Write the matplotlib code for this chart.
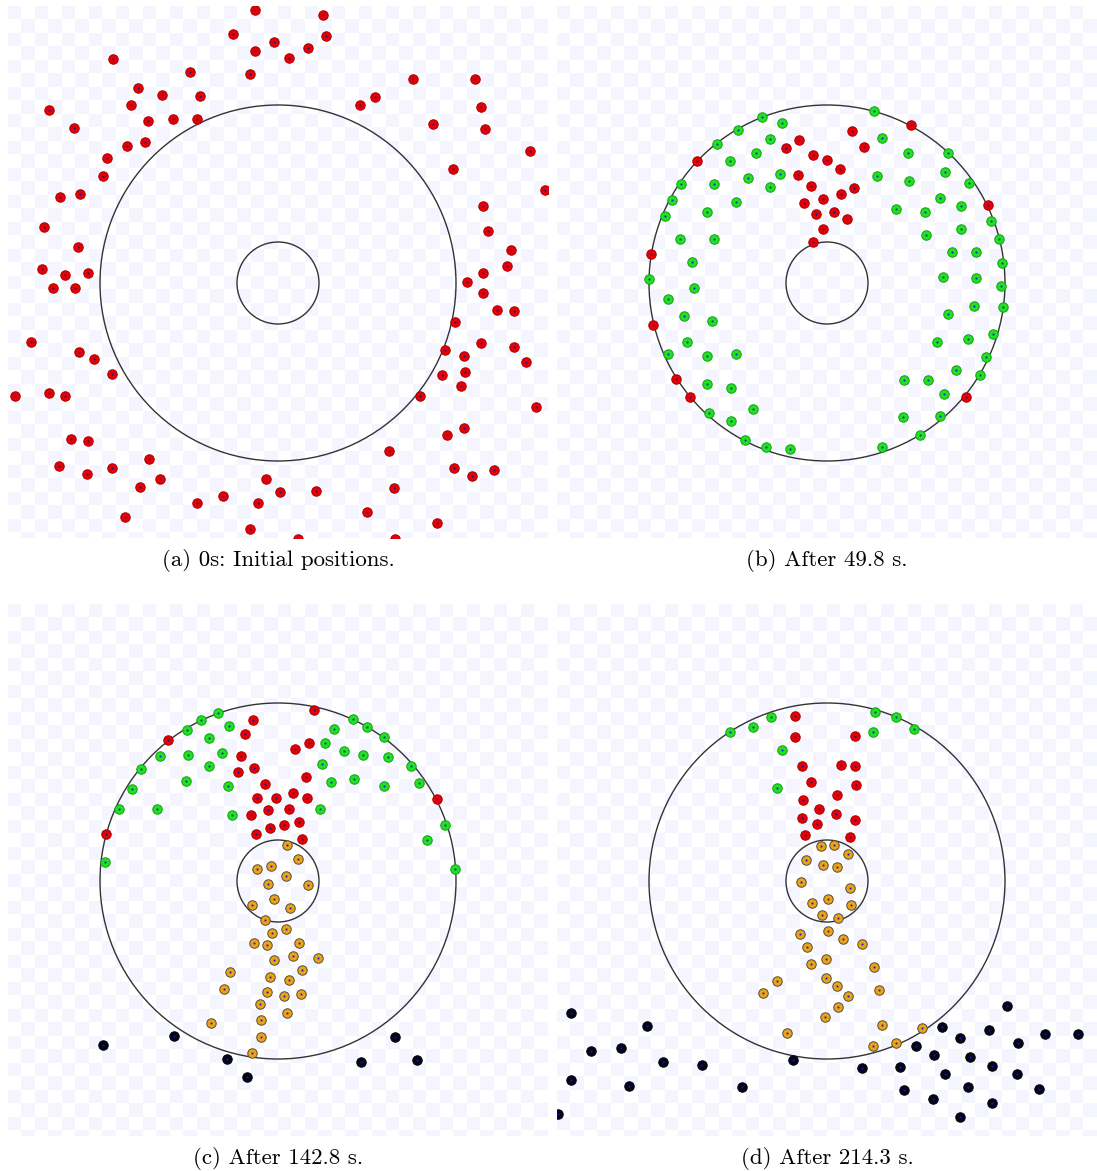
import numpy as np
import matplotlib
matplotlib.use("Agg")
import matplotlib.pyplot as plt
from matplotlib.colors import ListedColormap
from matplotlib.patches import Circle

# Agent positions, offsets from the arena centre (x right, y up)
red_a = [(-23, 273), (45, 268), (-45, 249), (-4, 241), (48, 247), (-23, 232), (30, 235),
         (11, 225), (-28, 209), (-165, 224), (-88, 211), (-140, 195), (-116, 188), (-78, 187),
         (-147, 178), (-229, 173), (-130, 162), (-105, 164), (-81, 164), (-204, 155),
         (-151, 137), (-133, 141), (-171, 125), (-175, 107), (-218, 86), (-198, 89),
         (-234, 56), (-200, 36), (-236, 14), (-213, 8), (-190, 10),
         (135, 204), (197, 204), (82, 178), (97, 186), (203, 176), (155, 159), (207, 154),
         (252, 132), (175, 114), (267, 93), (205, 77), (210, 52), (233, 33), (229, 17),
         (205, 10), (189, 1), (205, -10), (177, -39), (219, -27), (236, -28),
         (203, -60), (236, -64), (248, -79), (186, -73), (167, -67), (187, -89), (164, -92),
         (183, -103), (142, -113), (258, -124), (186, -145), (169, -152), (176, -185),
         (194, -193), (216, -187), (111, -168), (116, -205), (89, -229), (159, -240),
         (117, -256), (20, -256), (-28, -246), (38, -208), (2, -209), (-12, -196), (-20, -220),
         (-55, -213), (-81, -220), (-153, -234), (-138, -204), (-118, -196), (-129, -176),
         (-166, -185), (-191, -191), (-219, -183), (-190, -158), (-207, -156),
         (-213, -113), (-229, -110), (-263, -113), (-166, -91), (-184, -76), (-199, -69),
         (-247, -59), (-225, -5), (-203, -5)]

green_b = [(47, 172), (-65, 166), (-45, 160), (-89, 153), (-57, 144), (-110, 139), (-71, 130),
           (-97, 122), (-146, 99), (-113, 99), (-79, 105), (-47, 109), (-57, 96), (-155, 83),
           (-91, 81), (-162, 67), (-120, 71), (-147, 44), (-113, 44), (-135, 21), (-178, 4),
           (-133, -5), (-159, -16), (55, 145), (81, 130), (121, 130), (50, 107), (82, 102),
           (118, 111), (142, 100), (113, 85), (69, 74), (98, 71), (134, 77), (164, 62),
           (99, 48), (134, 54), (172, 44), (125, 31), (149, 31), (175, 20), (116, 6), (149, 5),
           (174, -3), (147, -23), (176, -24), (-143, -33), (-115, -38), (121, -31), (-140, -59),
           (-159, -71), (-120, -73), (-91, -71), (-120, -101), (-96, -105), (-118, -130),
           (-74, -126), (-96, -138), (-82, -157), (-61, -164), (-37, -166), (55, -164),
           (93, -152), (76, -134), (113, -133), (117, -111), (77, -97), (101, -97), (129, -87),
           (153, -92), (159, -74), (110, -59), (141, -56), (166, -51)]
red_b = [(84, 158), (25, 152), (-28, 143), (-41, 135), (37, 136), (-14, 128), (0, 123),
         (13, 114), (-29, 108), (-16, 97), (27, 95), (14, 89), (-4, 84), (-23, 80), (7, 71),
         (-11, 69), (20, 64), (-4, 54), (-14, 41), (-130, 122), (-176, 29), (161, 78),
         (-174, -42), (-151, -96), (-137, -114), (139, -114)]

green_c = [(-60, 168), (-77, 161), (-49, 155), (-91, 151), (-69, 143), (-118, 125), (-90, 126),
           (-56, 128), (-69, 115), (-137, 112), (-92, 100), (-50, 95), (-146, 92), (-159, 72),
           (-121, 72), (-46, 66), (-173, 19), (75, 162), (89, 154), (56, 152), (106, 144),
           (47, 138), (66, 130), (85, 126), (110, 124), (44, 117), (133, 115), (53, 99),
           (76, 102), (106, 95), (141, 98), (42, 72), (167, 56), (149, 41), (177, 12)]
red_c = [(36, 171), (-25, 161), (-33, 147), (-110, 141), (31, 138), (17, 132), (-37, 125),
         (-40, 109), (-24, 113), (28, 104), (-13, 97), (-21, 83), (-2, 83), (15, 88), (29, 83),
         (-27, 66), (-10, 71), (11, 72), (-8, 53), (6, 56), (21, 59), (-22, 47), (24, 42),
         (159, 82), (-172, 47)]
orange_c = [(9, 36), (20, 22), (-21, 12), (-7, 15), (8, 5), (-10, -3), (30, -4), (-4, -18),
            (-26, -24), (12, -27), (-13, -39), (-6, -52), (8, -48), (-24, -62), (-11, -64),
            (21, -62), (-4, -79), (15, -75), (40, -77), (-48, -91), (24, -89), (-8, -96),
            (11, -99), (-54, -108), (-11, -111), (6, -115), (23, -113), (-18, -123), (9, -132),
            (-67, -142), (-17, -139), (-17, -156), (-26, -172)]
black_c = [(-175, -164), (-104, -155), (-51, -178), (-31, -196), (83, -181), (117, -156),
           (139, -179)]

green_d = [(-97, 149), (-74, 154), (-56, 164), (-45, 131), (-50, 93), (48, 169), (69, 164),
           (46, 149), (87, 152)]
red_d = [(-32, 165), (-32, 144), (28, 145), (-25, 115), (14, 116), (28, 115), (-16, 99),
         (29, 96), (10, 86), (-24, 81), (-8, 72), (9, 67), (-25, 63), (-10, 57), (28, 61),
         (-22, 46), (23, 44)]
orange_d = [(-6, 35), (7, 36), (21, 27), (-21, 21), (-4, 16), (10, 14), (-26, -1), (23, -7),
            (-15, -22), (1, -18), (24, -24), (-5, -34), (11, -37), (-27, -53), (1, -50),
            (16, -58), (35, -63), (-20, -66), (-16, -83), (-1, -78), (47, -86), (-50, -100),
            (-1, -97), (10, -105), (-64, -112), (21, -115), (52, -109), (11, -126), (-2, -136),
            (-40, -152), (55, -144), (95, -147), (46, -165), (69, -162)]
black_d = [(180, -125), (-256, -132), (-180, -145), (-236, -170), (-206, -167), (-164, -181),
           (-125, -184), (-256, -199), (-198, -205), (-85, -206), (-269, -233), (-34, -179),
           (35, -187), (73, -186), (77, -209), (89, -165), (115, -146), (107, -174),
           (133, -157), (143, -176), (162, -149), (118, -193), (141, -206), (106, -218),
           (133, -236), (165, -185), (165, -222), (191, -162), (190, -193), (212, -208),
           (218, -153), (251, -153)]

captions = ["(a) 0s: Initial positions.", "(b) After 49.8 s.",
            "(c) After 142.8 s.", "(d) After 214.3 s."]

outer_r = 178
inner_r = 41

W, H, DPI = 1097, 1171, 100
fig = plt.figure(figsize=(W / DPI, H / DPI), dpi=DPI)
fig.patch.set_facecolor("white")

# panel boxes in pixels: left, top
boxes = [(8, 6), (557, 6), (8, 604), (557, 604)]
pw, ph = 540, 532
xlim = (-270, 270)
ylim = (-255, 277)

styles = {
    "red": dict(mfc="#e60000", mec="#a80000"),
    "green": dict(mfc="#22e022", mec="#12a012"),
    "orange": dict(mfc="#e9a418", mec="#5a4a30"),
    "black": dict(mfc="#05051a", mec="#000000"),
}

panels = [
    [("red", red_a)],
    [("green", green_b), ("red", red_b)],
    [("green", green_c), ("red", red_c), ("orange", orange_c), ("black", black_c)],
    [("green", green_d), ("red", red_d), ("orange", orange_d), ("black", black_d)],
]

cell = 13.5
ncol = int(np.ceil(pw / cell))
nrow = int(np.ceil(ph / cell))
checker = (np.indices((nrow, ncol)).sum(axis=0) % 2)
cmap = ListedColormap(["#f4f5ff", "#ffffff"])

for (left, top), groups, cap in zip(boxes, panels, captions):
    ax = fig.add_axes([left / W, 1 - (top + ph) / H, pw / W, ph / H])
    ax.imshow(checker, cmap=cmap, interpolation="nearest", origin="upper",
              extent=(xlim[0], xlim[0] + ncol * cell, ylim[1] - nrow * cell, ylim[1]),
              zorder=0)
    ax.set_xlim(*xlim)
    ax.set_ylim(*ylim)
    ax.set_aspect("auto")
    ax.set_axis_off()

    for r in (outer_r, inner_r):
        ax.add_patch(Circle((0, 0), r, fill=False, ec="#333333", lw=1.0, zorder=2))

    for kind, pts in groups:
        xs = [p[0] for p in pts]
        ys = [p[1] for p in pts]
        ax.plot(xs, ys, "o", ms=6.8, mew=0.7, zorder=3, **styles[kind])
        ax.plot(xs, ys, "s", ms=1.3, mew=0, color="#1010d0", zorder=4)

    fig.text((left + pw / 2) / W, 1 - (top + ph + 23) / H, cap,
             ha="center", va="center", fontsize=16.5, family=["cmr10", "DejaVu Serif"])

fig.savefig("out.png", dpi=DPI)
